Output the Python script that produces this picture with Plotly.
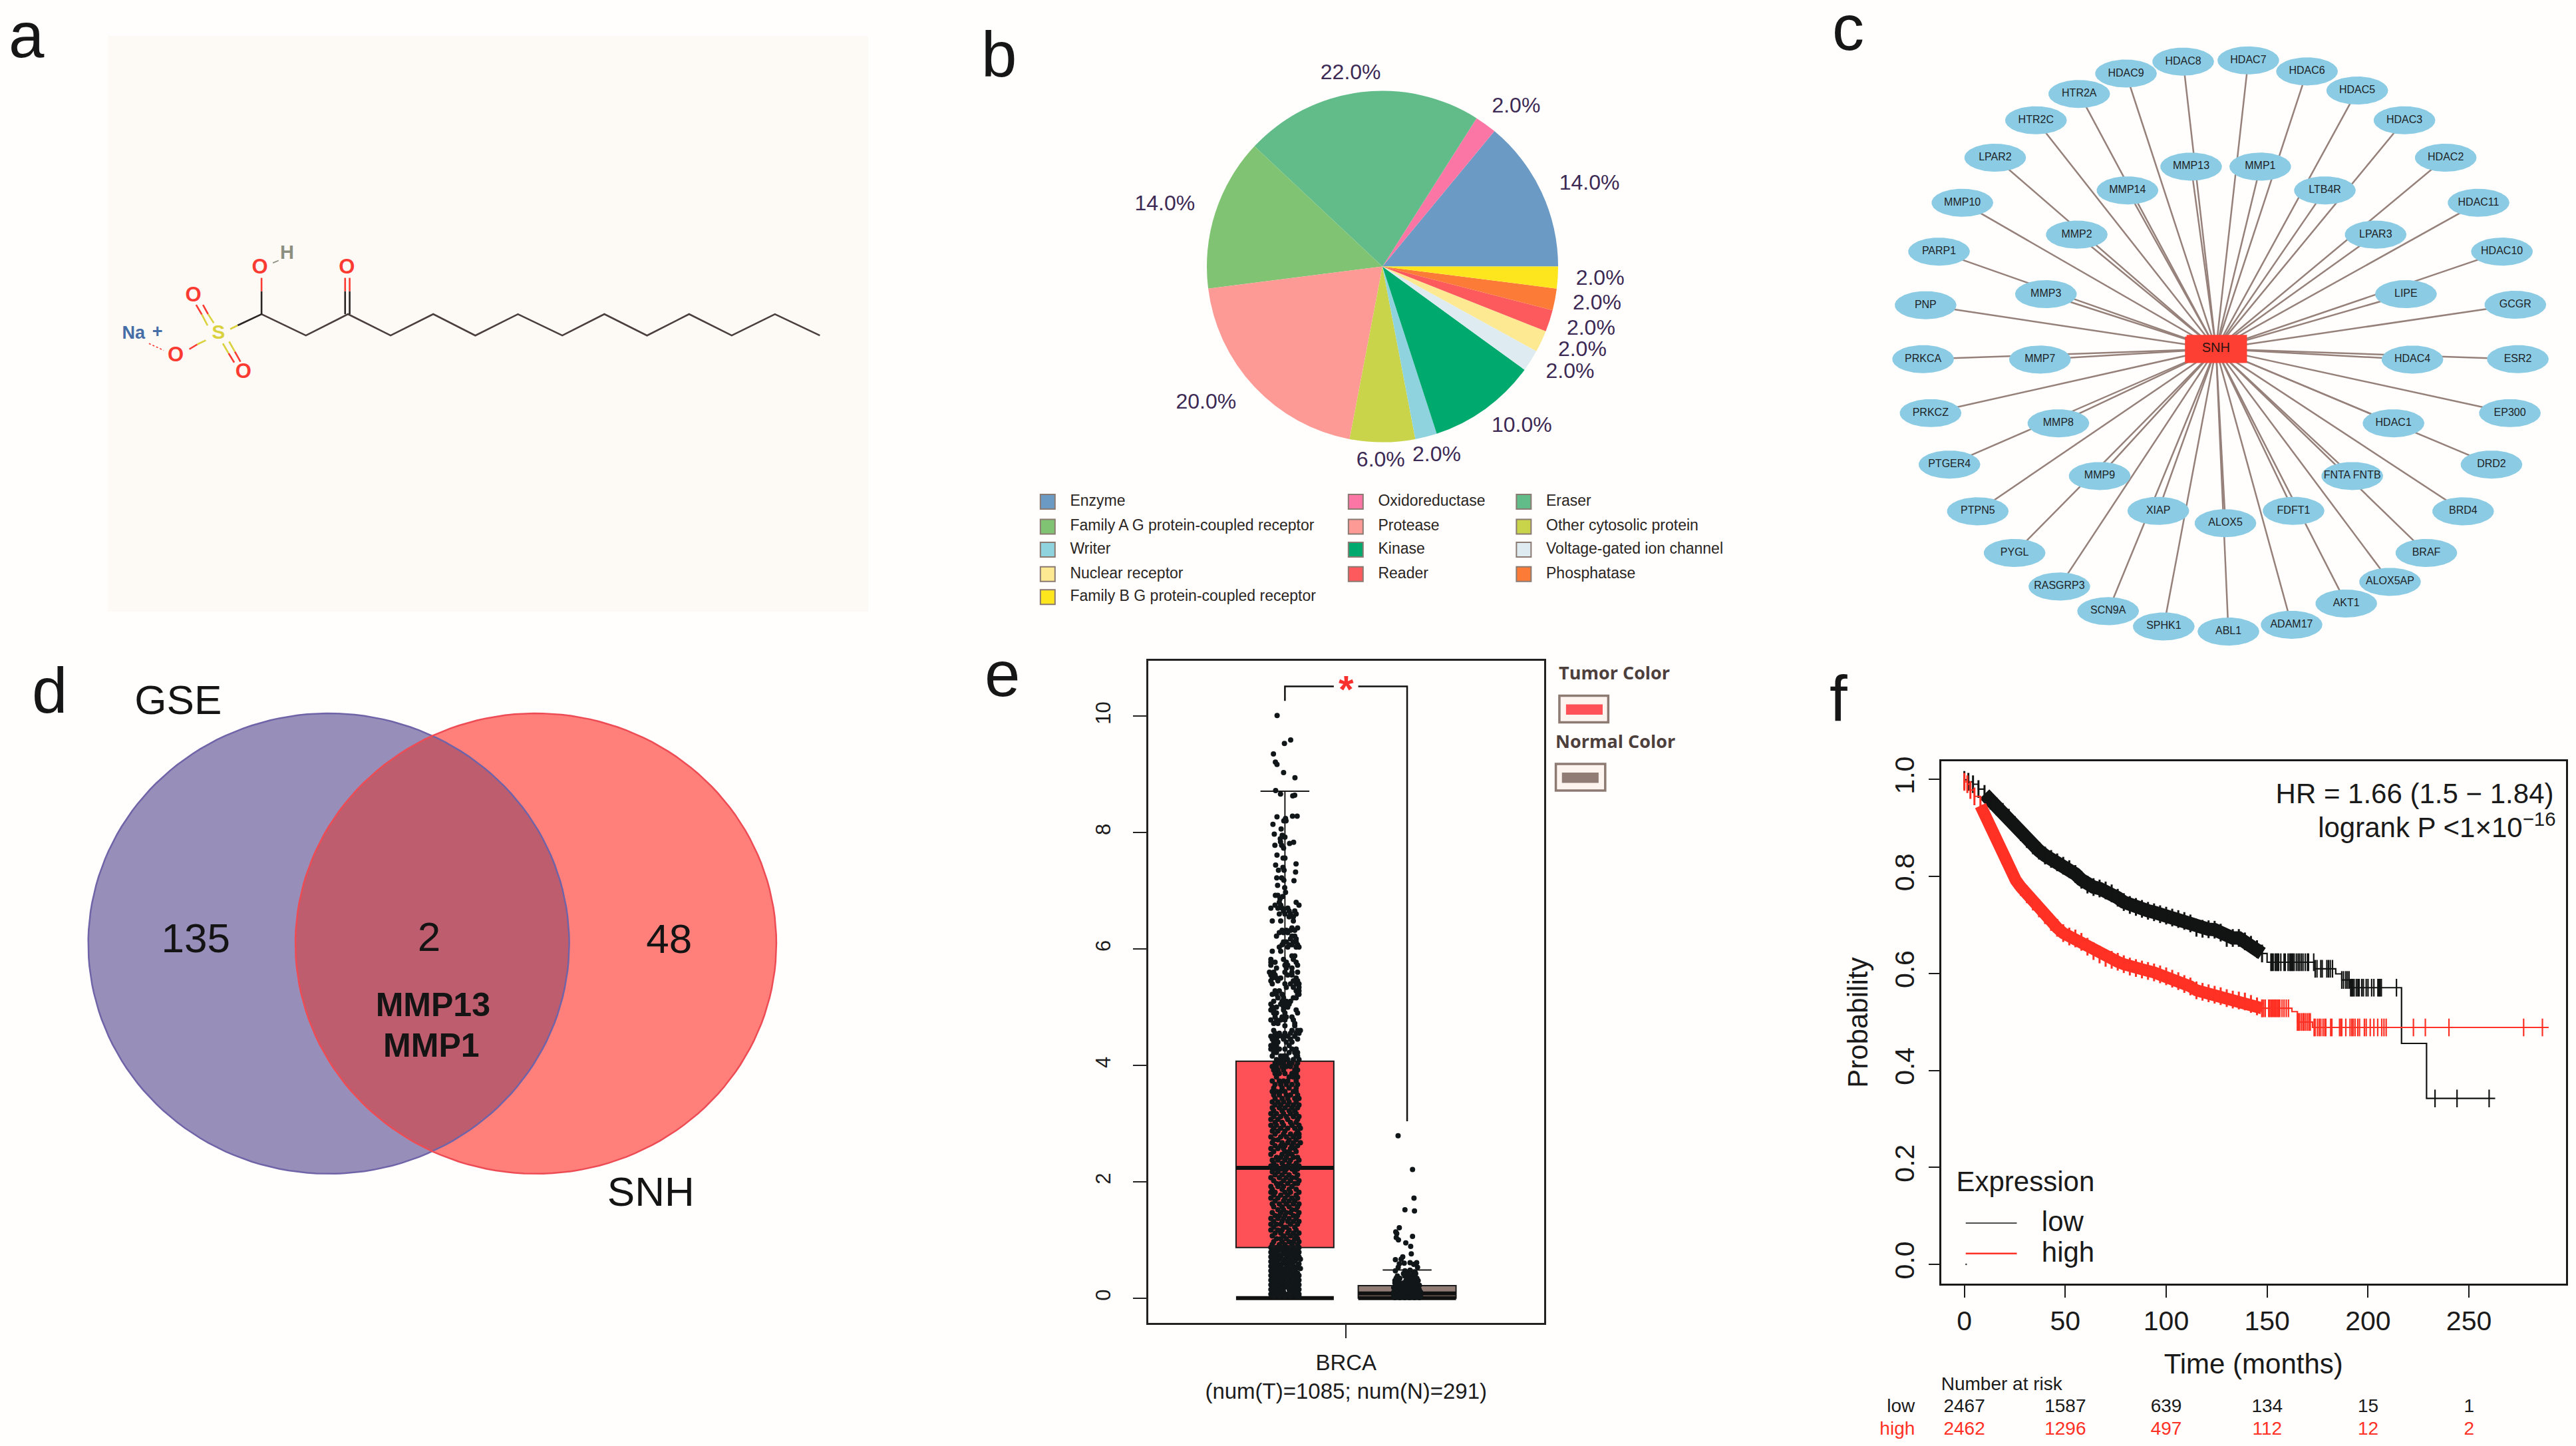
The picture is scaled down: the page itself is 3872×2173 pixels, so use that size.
import numpy as np
import plotly.graph_objects as go

W, H = 3872, 2173
SANS = "Liberation Sans"
BG = "#fffefc"

# ---------- panel a: molecule (drawing units) ----------
chain_x = [460, 538, 612, 687, 762, 836, 911, 989, 1063, 1138, 1212, 1287, 1363, 1442]
chain_y = [775, 828, 775, 828, 775, 828, 775, 828, 775, 828, 775, 828, 775, 828]
dark_x = [418, 460, None, 460, 460, None, 607, 607, None, 615, 615]
dark_y = [803, 775, None, 775, 718, None, 775, 718, None, 775, 718]
red_x = [460, 460, None, 607, 607, None, 615, 615, None, 345, 355, None, 357, 366, None, 402, 412, None, 413, 423, None, 347, 333]
red_y = [718, 685, None, 718, 685, None, 718, 685, None, 752, 776, None, 752, 775, None, 872, 895, None, 868, 893, None, 850, 862]
yellow_x = [405, 418, None, 365, 355, None, 376, 366, None, 392, 402, None, 403, 413, None, 362, 347]
yellow_y = [812, 803, None, 803, 776, None, 797, 775, None, 848, 872, None, 843, 868, None, 840, 850]
ionic_x = [262, 288]
ionic_y = [848, 865]
oh_x = [480, 490]
oh_y = [648, 642]
atom_x = [340, 428, 309, 457, 610]
atom_y = [730, 920, 880, 661, 661]
atom_labels = ["<b>O</b>", "<b>O</b>", "<b>O</b>", "<b>O</b>", "<b>O</b>"]

# ---------- panel b: pie ----------
pie_names = ["Enzyme", "Oxidoreductase", "Eraser", "Family A G protein-coupled receptor", "Protease",
             "Other cytosolic protein", "Writer", "Kinase", "Voltage-gated ion channel", "Nuclear receptor",
             "Reader", "Phosphatase", "Family B G protein-coupled receptor"]
pie_values = [14, 2, 22, 14, 20, 6, 2, 10, 2, 2, 2, 2, 2]
pie_colors = ["#6b9ac4", "#fb75a5", "#62bc89", "#80c372", "#fd9a95", "#c9d44b", "#8ed3de", "#00aa6e",
              "#deecf1", "#fde992", "#fd5a5e", "#fc7c37", "#fee61e"]
pie_lab_x = [1214, 1070, 745, 380, 461, 804, 914, 1081, 1200, 1217, 1176, 1229, 1235]
pie_lab_y = [446, 254, 171, 497, 991, 1134, 1121, 1048, 860, 806, 914, 744, 683]
pie_lab_t = ["14.0%", "2.0%", "22.0%", "14.0%", "20.0%", "6.0%", "2.0%", "10.0%", "2.0%", "2.0%", "2.0%", "2.0%", "2.0%"]
leg_x = [150, 755, 1085, 150, 755, 1085, 150, 755, 1085, 150, 755, 1085, 150]
leg_y = [1236, 1236, 1236, 1298, 1298, 1298, 1355, 1355, 1355, 1416, 1416, 1416, 1473]
leg_order = [0, 1, 2, 3, 4, 5, 6, 7, 8, 9, 10, 11, 12]

# ---------- panel c: network ----------
outer_names = ["HDAC8", "HDAC7", "HDAC6", "HDAC5", "HDAC3", "HDAC2", "HDAC11", "HDAC10", "GCGR", "ESR2", "EP300",
               "DRD2", "BRD4", "BRAF", "ALOX5AP", "AKT1", "ADAM17", "ABL1", "SPHK1", "SCN9A", "RASGRP3", "PYGL",
               "PTPN5", "PTGER4", "PRKCZ", "PRKCA", "PNP", "PARP1", "MMP10", "LPAR2", "HTR2C", "HTR2A", "HDAC9"]
outer_x = [778, 909, 1027, 1128, 1223, 1306, 1372, 1419, 1446, 1451, 1435, 1398, 1341, 1267, 1194, 1106, 996, 869,
           739, 627, 529, 439, 365, 308, 270, 255, 260, 287, 334, 400, 482, 569, 663]
outer_y = [144, 141, 167, 212, 282, 370, 476, 591, 716, 844, 971, 1092, 1202, 1300, 1368, 1419, 1469, 1485, 1473,
           1437, 1379, 1300, 1202, 1092, 971, 844, 717, 591, 476, 370, 282, 220, 172]
inner_names = ["MMP13", "MMP1", "LTB4R", "LPAR3", "LIPE", "HDAC4", "HDAC1", "FNTA FNTB", "FDFT1", "ALOX5", "XIAP",
               "MMP9", "MMP8", "MMP7", "MMP3", "MMP2", "MMP14"]
inner_x = [794, 933, 1063, 1165, 1226, 1239, 1201, 1118, 1000, 863, 728, 610, 527, 490, 502, 564, 666]
inner_y = [391, 391, 447, 551, 691, 845, 995, 1119, 1201, 1230, 1201, 1119, 995, 845, 691, 551, 447]
hub_x, hub_y = 844, 820

# ---------- panel d: Venn ----------
venn_cx = [596, 971.5]
venn_cy = 793
venn_rx = 436
venn_ry = 605
venn_x = [323, 1180, 355, 778, 1213, 785, 782]
venn_y = [163, 1455, 788, 785, 791, 962, 1068]
venn_t = ["GSE", "SNH", "135", "2", "48", "<b>MMP13</b>", "<b>MMP1</b>"]
venn_s = [62, 62, 62, 62, 62, 50, 50]

# ---------- panel e: box plot ----------
box_pos = [1, 2]
box_q1 = [0.87, 0.0]
box_med = [2.24, 0.08]
box_q3 = [4.07, 0.216]
box_low = [0.0, 0.0]
box_up = [8.71, 0.485]
tumor_sparse_x = [.936, 1.047, .996, .906, .922, .935, .989, 1.082, .924, .964, 1.064, 1.08, .935, 1.062, 1.1, 1.005,
                  .991, 1.009, .902, .969, .913, .978, 1.0, .962, .964, 1.071, 1.038, .918, .973, .989, .935, .985,
                  1.0, 1.091, .924, .984, .947, .993, 1.087, .933, .973, .991, 1.074, .94, .998, 1.005, .922, .942,
                  .982, .96]
tumor_sparse_y = [10.01, 9.59, 9.53, 9.35, 9.21, 9.17, 9.03, 8.94, 8.72, 8.66, 8.63, 8.64, 8.27, 8.28, 8.28, 8.24,
                  8.2, 8.2, 8.14, 8.06, 7.97, 7.95, 7.92, 7.89, 7.84, 7.83, 7.81, 7.78, 7.78, 7.73, 7.61, 7.56, 7.56,
                  7.46, 7.44, 7.4, 7.35, 7.35, 7.32, 7.22, 7.22, 7.18, 7.17, 7.09, 7.05, 6.97, 6.92, 6.92, 6.9, 6.86]
# rows of jittered samples: (expression, horizontal jitter in 1/87 of a category)
tumor_rows = [(6.80,[-4,8]),(6.75,[-7,-3,10]),(6.70,[-10,-5,-2,2]),(6.65,[-1,3,7]),(6.60,[-4,0,4,8]),(6.55,[3,6]),
 (6.48,[-9,-3,6]),(6.36,[5,9]),(6.32,[-2,1,4,7]),(6.28,[-4,-1,2]),(6.22,[-6,5,7]),(6.17,[4,8]),(6.12,[-1,1,6,8]),
 (6.07,[-2,3,5,9]),(6.03,[-4,2,8,10]),(5.96,[-9,-3]),(5.88,[5,7]),(5.82,[-10,-1,6]),(5.77,[-10,-7,1,8]),
 (5.72,[-10,0,2,9]),(5.67,[-6,1,5]),(5.6,[-11,-8,0,5,9]),(5.55,[-10,-7,2,5]),(5.5,[-9,-6,-3,8]),(5.45,[-10,-5,6,9]),
 (5.40,[-9,0,4,8,10]),(5.34,[1,6,10]),(5.28,[-7,-4,8,10]),(5.22,[-9,-6,-2,9,10]),(5.16,[-5,-1,6,8]),(5.1,[-8,-2,1,4]),
 (5.05,[-10,-3,0,3]),(5.0,[-9,-6,-1,2]),(4.95,[-10,-8,-1,8]),(4.9,[-8,-6,0,9]),(4.83,[-7,-2,1,5]),
 (4.78,[-10,-6,-3,0,6]),(4.72,[-8,-5,7]),(4.68,[0,7]),(4.6,[-8,5,9,11]),(4.55,[-7,-4,0,4,8,10]),
 (4.5,[-10,-8,-5,-2,2,7]),(4.45,[-9,-6,-1,4,9]),(4.4,[-8,-5,1,5]),(4.34,[-10,-8,-6,3]),(4.28,[-10,-7,-4,0,5,8]),
 (4.22,[-8,-6,3,7,9]),(4.16,[-9,-3,-1,1,8,9]),(4.1,[-6,-3,0,2,6,10]),(4.04,[-7,-4,-1,3,5,9]),(3.98,[-9,-6,-2,1,4,8]),
 (3.92,[-8,-5,-1,7,9]),(3.86,[-7,-4,0,5,8]),(3.8,[-6,3,6,9]),(3.73,[-9,-4,-1,2,8]),(3.67,[-7,-3,1,5,9]),
 (3.61,[-8,-2,3,8]),(3.55,[-9,-6,-3,0,6,8]),(3.49,[-8,-4,1,4,9]),(3.43,[-7,-2,2,7,10]),
 (3.37,[-9,-5,-1,3,8]),(3.32,[-7,-3,2,6,10]),(3.27,[-9,-4,0,5,9]),(3.22,[-8,-2,3,7]),(3.17,[-10,-6,-1,4,8]),
 (3.12,[-8,-3,1,6,10]),(3.07,[-10,-5,2,9]),(3.02,[-7,-2,4,8]),(2.97,[-10,-6,-1,5,10]),(2.92,[-8,-3,2,7,11]),
 (2.87,[-9,-5,0,9]),(2.82,[-7,-1,4,8,10]),(2.77,[-10,-3,1,6,10]),(2.72,[-8,-5,3,8]),(2.67,[-9,-2,2,6,11]),
 (2.62,[-7,-3,0,5,9]),(2.57,[-10,-5,-1,4,7]),(2.52,[-8,0,3,8]),(2.47,[-10,-2,2,5]),(2.42,[-6,-3,1,6,9]),
 (2.37,[-9,-5,0,4,10]),(2.32,[-8,-2,3,8]),(2.27,[-10,-6,-1,2,6,10]),(2.22,[-8,-3,1,5,9]),(2.17,[-9,-5,0,7]),
 (2.12,[-7,-2,3,9]),(2.07,[-10,-4,1,5,8]),(2.02,[-8,-1,4,10]),(1.97,[-6,-3,2,7,9]),(1.92,[-10,-5,-1,5]),
 (1.87,[-9,-2,3,8]),(1.82,[-10,-7,0,4,10]),(1.77,[-8,-3,2,8]),(1.72,[-10,-5,0,5,9]),(1.67,[-7,-1,3,7]),
 (1.62,[-9,-4,1,6,10]),(1.57,[-8,-2,3,9]),(1.52,[-5,-1,5,8]),(1.47,[-9,-3,1,4,10]),(1.42,[-7,-4,0,6,9]),
 (1.37,[-10,-5,-1,3,8]),(1.32,[-8,-2,2,6,10]),(1.27,[-10,-6,-3,4,9]),(1.22,[-8,-1,1,7]),(1.17,[-10,-5,-2,3,8]),
 (1.12,[-7,-3,2,6,10]),(1.07,[-9,-1,4,8]),(1.02,[-6,-3,1,7,9]),(.97,[-8,-2,3,6,10]),(.92,[-9,-4,0,5,9]),
 (.87,[-10,-6,-2,2,6,10]),(.83,[-8,-4,0,4,8]),(.79,[-10,-6,-1,3,7,10]),(.75,[-9,-5,-2,1,5,9]),(.71,[-10,-7,-3,2,6,10]),
 (.67,[-8,-4,0,4,8,11]),(.63,[-10,-6,-1,3,7]),(.59,[-9,-5,-2,1,5,10]),(.55,[-10,-7,-3,2,6,9]),(.51,[-8,-4,0,4,8,11]),
 (.47,[-10,-6,-2,3,7]),(.43,[-9,-5,-1,1,5,9]),(.39,[-10,-7,-3,2,6,10]),(.35,[-8,-4,0,4,8]),(.31,[-10,-6,-2,3,7,10]),
 (.27,[-9,-5,-1,1,5,9]),(.23,[-10,-7,-3,2,6,10]),(.19,[-8,-4,0,4,8]),(.15,[-10,-6,-2,3,7,10]),(.11,[-9,-5,-1,5,9]),
 (.07,[-10,-7,-3,2,6,10]),(.03,[-8,-4,0,4,8,10])]
normal_sparse_x = [1.926, 2.044, 2.056, 1.982, 2.06, 1.936, 1.907, 1.915, 2.044, 1.911, 1.929, 1.989, 2.029, 2.034,
                   1.904, 1.964, 1.951, 2.024, 1.936, 1.976, 2.078, 2.054, 1.927, 2.085, 1.904, 1.982, 2.024, 2.064]
normal_sparse_y = [2.79, 2.21, 1.72, 1.52, 1.5, 1.21, 1.14, 1.11, 1.06, 1.04, 1.0, .95, .89, .76, .66, .71, .67, .61,
                   .59, .6, .61, .58, .53, .53, .47, .47, .48, .45]
normal_rows = [(.42,[-3,1,5,7]),(.38,[-8,-2,3,6]),(.34,[-9,-6,0,4,8]),(.3,[-10,-7,-1,2,6,9]),(.26,[-10,-6,-3,1,5,8]),
 (.22,[-9,-5,-1,3,7,10]),(.18,[-11,-7,-3,1,4,8]),(.14,[-10,-6,-2,2,6,10]),(.1,[-11,-8,-4,0,3,7,11]),
 (.06,[-10,-6,-2,2,6,10]),(.03,[-11,-8,-4,0,4,8,11]),(.01,[-10,-6,-2,2,6,10])]

# ---------- panel f: survival ----------
low_t = [0,2,4.3,7,10,13,16,19,22,25,28,31,34,37,40,43,46,49,52,55,58,61,64,67,70,73,76,79,82,85,88,91,94,97,100,103,
         106,109,112,115,118,121,124,127,130,133,136,139,142,145,147.5]
low_s = [.999,.995,.99,.98,.97,.956,.944,.933,.921,.906,.891,.877,.864,.853,.843,.836,.829,.822,.815,.805,.793,.783,
         .778,.775,.771,.765,.756,.747,.741,.737,.733,.729,.726,.722,.719,.715,.712,.708,.703,.694,.692,.691,.69,.684,
         .673,.673,.673,.666,.659,.65,.641]
low_levels_t = [150, 173.8, 184, 187, 191.2, 216.6, 229, 263]
low_levels_s = [.623, .6095, .599, .5864, .5705, .4556, .3421, .3421]
low_cens_t = [151.9,152.4,153,154,154.6,155.2,155.7,156.8,158.4,159,160.4,161.2,161.7,162.3,162.8,163.4,164.5,165.4,
              166.1,167,167.8,168.9,170,170.5,173.1,173.8,174.7,176.6,177.3,179.6,180.4,181.3,182.4,187,187.9,189,
              189.8,190.6,191.4,191.96,192.5,193.1,194.2,195,195.6,196.9,197.7,199.1,200,201.8,202.9,204.9,205.5,206,
              206.6,214.1,233.2,244.1,260]
low_cens_s = [.623]*25 + [.6095]*8 + [.5864]*5 + [.5705]*18 + [.3421]*3
high_t = [0,1.5,3,5,8,10,12.6,15,17.3,19,21,23,25.5,28,31,34,37,40,43,46,49,52,55,58,61,64,67,70,73,76,79,82,85,88,91,
          94,97,100,103,106,109,112,115,118,121,124,127,130,133,136,139,142,145,147.5]
high_s = [.995,.99,.978,.965,.946,.927,.901,.88,.86,.843,.826,.809,.792,.778,.763,.748,.734,.72,.706,.694,.683,.676,
          .672,.665,.655,.646,.639,.632,.628,.624,.619,.614,.611,.608,.605,.602,.598,.594,.589,.584,.578,.573,.565,
          .562,.559,.556,.553,.549,.546,.544,.542,.537,.532,.528]
high_levels_t = [162.3, 165, 172.5, 289.5]
high_levels_s = [.5211, .4998, .4885, .4885]
high_cens_t = [147.5,148.3,149.1,150.8,151.3,151.9,152.4,153,153.5,154.1,154.6,155.2,155.7,156.3,157.4,158.4,159.5,160.6,
               165,165.6,166.1,167,167.8,168.3,169.1,170,170.8,171.4,
               173.3,173.8,174.9,175.8,176.6,177.7,178.6,179.1,181.5,182.1,185.9,186.5,187,189,191.1,192,192.7,193.6,
               194.9,195.8,198.2,199.1,201.1,202.9,204.8,206.8,207.9,209,222.5,228.4,240.1,277.1,286.4]
high_cens_s = [.528]*18 + [.4998]*10 + [.4885]*33
risk_t = [0, 50, 100, 150, 200, 250]
risk_low = ["2467", "1587", "639", "134", "15", "1"]
risk_high = ["2462", "1296", "497", "112", "12", "2"]

RED_F, BLACK = "#ff3024", "#121414"

fig = go.Figure()


def dom(x0, y0, w, h):
    return dict(x=[x0 / W, (x0 + w) / W], y=[1 - (y0 + h) / H, 1 - y0 / H])


def hidden(n, crop, xr=(0, 1568), yr=(1568, 0)):
    d = dom(*crop)
    fig.update_layout(**{
        f"xaxis{n}": dict(domain=d["x"], range=list(xr), visible=False, fixedrange=True, anchor=f"y{n}"),
        f"yaxis{n}": dict(domain=d["y"], range=list(yr), visible=False, fixedrange=True, anchor=f"x{n}"),
    })


def txt(n, xs, ys, labels, size, color="#151515", pos="middle center", family=SANS):
    fig.add_trace(go.Scatter(x=xs, y=ys, text=labels, mode="text", textposition=pos, xaxis=f"x{n}", yaxis=f"y{n}",
                             textfont=dict(size=size, color=color, family=family), cliponaxis=False,
                             hoverinfo="skip", showlegend=False))


def line(n, xs, ys, color, width, dash=None, shape="linear"):
    fig.add_trace(go.Scatter(x=xs, y=ys, mode="lines", xaxis=f"x{n}", yaxis=f"y{n}", cliponaxis=False,
                             line=dict(color=color, width=width, dash=dash, shape=shape), hoverinfo="skip",
                             showlegend=False))


def ellipse(cx, cy, rx, ry, t0=0, t1=2 * np.pi):
    t = np.linspace(t0, t1, 160)
    return cx + rx * np.cos(t), cy + ry * np.sin(t)


# ---- panel a
hidden(1, (0, 0, 1340, 950), yr=(1571.7, 8.6))
fig.add_shape(type="rect", xref="x1", yref="y1", x0=190, x1=1527, y0=85, y1=1513, fillcolor="#fdf9f5",
              line_width=0, layer="below")
line(1, chain_x, chain_y, "#4a3f3c", 2.6)
line(1, dark_x, dark_y, "#2a2422", 2.6)
line(1, red_x, red_y, "#fb3a32", 2.6)
line(1, yellow_x, yellow_y, "#d9d23e", 2.6)
line(1, ionic_x, ionic_y, "#fb3a32", 1.6, dash="dot")
line(1, oh_x, oh_y, "#8a8f80", 1.8)
txt(1, atom_x, atom_y, atom_labels, 31, "#fb3a32")
txt(1, [384], [824], ["<b>S</b>"], 30, "#d9d23e")
txt(1, [235, 277], [824, 822], ["<b>Na</b>", "<b>+</b>"], 27, "#456ea6")
txt(1, [505], [625], ["<b>H</b>"], 29, "#8a8f80")

# ---- panel b
hidden(2, (1460, 0, 1200, 950))
cx, cy, r = 2078, 394, 265
fig.add_trace(go.Pie(labels=pie_names, values=pie_values, sort=False, direction="counterclockwise", rotation=39.6,
                     marker=dict(colors=pie_colors, line=dict(width=0)), textinfo="none", showlegend=False,
                     hoverinfo="label+percent",
                     domain=dict(x=[(cx - r) / W, (cx + r) / W], y=[1 - (cy + r) / H, 1 - (cy - r) / H])))
txt(2, pie_lab_x, pie_lab_y, pie_lab_t, 32, "#3c2a55")
fig.add_trace(go.Scatter(x=leg_x, y=leg_y, mode="markers", xaxis="x2", yaxis="y2", hoverinfo="skip", showlegend=False,
                         marker=dict(symbol="square", size=22, color=[pie_colors[i] for i in leg_order],
                                     line=dict(color="#8a7a72", width=2))))
txt(2, [x + 44 for x in leg_x], leg_y, pie_names, 23, "#2a2522", pos="middle right")

# ---- panel c
hidden(3, (2700, 0, 1172, 1000), yr=(1571.5, 11.5))
all_x, all_y = outer_x + inner_x, outer_y + inner_y
ex, ey = [], []
for x, y in zip(all_x, all_y):
    ex += [hub_x, x, None]
    ey += [hub_y, y, None]
line(3, ex, ey, "#96807a", 2.5)
nx, ny = [], []
for x, y in zip(all_x, all_y):
    a, b = ellipse(x, y, 62, 33)
    nx += list(a) + [None]
    ny += list(b) + [None]
fig.add_trace(go.Scatter(x=nx, y=ny, mode="lines", fill="toself", fillcolor="#8ccbe4", line=dict(width=0),
                         xaxis="x3", yaxis="y3", hoverinfo="skip", showlegend=False))
fig.add_trace(go.Scatter(x=[hub_x - 59, hub_x + 59, hub_x + 59, hub_x - 59, hub_x - 59],
                         y=[hub_y - 29, hub_y - 29, hub_y + 29, hub_y + 29, hub_y - 29], mode="lines", fill="toself",
                         fillcolor="#fd3f33", line=dict(color="#fd3f33", width=5), xaxis="x3", yaxis="y3",
                         hoverinfo="skip", showlegend=False))
txt(3, all_x, all_y, outer_names + inner_names, 16, "#1c2326")
txt(3, [hub_x], [hub_y], ["SNH"], 20, "#2a1210")

# ---- panel d
hidden(4, (0, 960, 1300, 900))
cxl, cxr = venn_cx
lx, ly = ellipse(cxl, venn_cy, venn_rx, venn_ry)
rx_, ry_ = ellipse(cxr, venn_cy, venn_rx, venn_ry)
th = np.arccos((cxr - cxl) / 2 / venn_rx)
ax_, ay_ = ellipse(cxl, venn_cy, venn_rx, venn_ry, -th, th)
bx_, by_ = ellipse(cxr, venn_cy, venn_rx, venn_ry, np.pi - th, np.pi + th)
for xs, ys, c in [(lx, ly, "#978fb9"), (rx_, ry_, "#ff7f7b"),
                  (np.r_[ax_, bx_], np.r_[ay_, by_], "#be5d6e")]:
    fig.add_trace(go.Scatter(x=xs, y=ys, mode="lines", fill="toself", fillcolor=c, line=dict(width=0), xaxis="x4",
                             yaxis="y4", hoverinfo="skip", showlegend=False))
line(4, lx, ly, "#6f64a8", 2.5)
line(4, rx_, ry_, "#ee4c55", 2.5)
for x, y, t, s in zip(venn_x, venn_y, venn_t, venn_s):
    txt(4, [x], [y], [t], s, "#141414")

# ---- panel e
e_frame = dict(x0=1726, x1=2321, y0=989, y1=1987)
ed = dom(e_frame["x0"], e_frame["y0"], e_frame["x1"] - e_frame["x0"], e_frame["y1"] - e_frame["y0"])
fig.update_layout(
    xaxis5=dict(domain=ed["x"], range=[-0.118, 3.121], anchor="y5", showgrid=False, zeroline=False, showline=True,
                mirror=True, linecolor="#222", linewidth=2.5, ticks="outside", ticklen=21, tickwidth=2, tickcolor="#222",
                tickmode="array", tickvals=[1.5], ticktext=["BRCA<br>(num(T)=1085; num(N)=291)"], ticklabelstandoff=8,
                tickfont=dict(size=33, family=SANS, color="#1c1c1c"), fixedrange=True),
    yaxis5=dict(domain=ed["y"], range=[-0.421, 10.945], anchor="x5", showgrid=False, zeroline=False, showline=True,
                mirror=True, linecolor="#222", linewidth=2.5, ticks="outside", ticklen=20, tickwidth=2, tickcolor="#222",
                tickmode="array", tickvals=[0, 2, 4, 6, 8, 10], tickangle=-90, ticklabelstandoff=22,
                tickfont=dict(size=31, family=SANS, color="#1c1c1c"), fixedrange=True),
)
for i, col in enumerate(["#fd5157", "#917c75"]):
    fig.add_trace(go.Box(x=[box_pos[i]], q1=[box_q1[i]], median=[box_med[i]], q3=[box_q3[i]], lowerfence=[box_low[i]],
                         upperfence=[box_up[i]], width=0.8, whiskerwidth=0.5, fillcolor=col, boxpoints=False,
                         line=dict(color="#1a1a1a", width=2), xaxis="x5", yaxis="y5", hoverinfo="skip",
                         showlegend=False))
    line(5, [box_pos[i] - .4, box_pos[i] + .4], [box_med[i], box_med[i]], "#111", 6)
    line(5, [box_pos[i] - .4, box_pos[i] + .4], [box_low[i], box_low[i]], "#111", 6)
px_, py_ = list(tumor_sparse_x), list(tumor_sparse_y)
for y, offs in tumor_rows:
    px_ += [1 + o / 87 for o in offs]
    py_ += [y] * len(offs)
qx, qy = list(normal_sparse_x), list(normal_sparse_y)
for y, offs in normal_rows:
    qx += [2 + o / 100 for o in offs]
    qy += [y] * len(offs)
for xs, ys in [(px_, py_), (qx, qy)]:
    fig.add_trace(go.Scatter(x=xs, y=ys, mode="markers", marker=dict(size=8, color="#111618"), xaxis="x5", yaxis="y5",
                             hoverinfo="skip", showlegend=False))
line(5, [1, 1, 1.4], [10.26, 10.51, 10.51], "#111", 2.5)
line(5, [1.6, 2, 2], [10.51, 10.51, 3.04], "#111", 2.5)
txt(5, [1.5], [10.4], ["<b>*</b>"], 58, "#f8312f")

hidden(7, (1460, 960, 1200, 1213))
for x0, x1, y0, y1, ix0, ix1, iy0, iy1, c in [(1155, 1251, 105, 157, 1168, 1240, 122, 142, "#fd5157"),
                                             (1148, 1245, 238, 290, 1160, 1232, 255, 275, "#917c75")]:
    fig.add_shape(type="rect", xref="x7", yref="y7", x0=x0, x1=x1, y0=y0, y1=y1, fillcolor="#fdf3ef",
                  line=dict(color="#8d7a72", width=3.5))
    fig.add_shape(type="rect", xref="x7", yref="y7", x0=ix0, x1=ix1, y0=iy0, y1=iy1, fillcolor=c, line_width=0)
txt(7, [1263, 1265], [65, 198], ["<b>Tumor Color</b>", "<b>Normal Color</b>"], 27, "#4d403c", family="Open Sans")

# ---- panel f
fd = dom(2917.5, 1140.6, 3857 - 2917.5, 1928 - 1140.6)
axis_f = dict(showgrid=False, zeroline=False, showline=True, mirror=True, linecolor="#1a1a1a", linewidth=2.5,
              ticks="outside", tickwidth=2, tickcolor="#1a1a1a", tickfont=dict(size=41, family=SANS, color="#1a1a1a"),
              fixedrange=True)
fig.update_layout(
    xaxis6=dict(axis_f, domain=fd["x"], range=[-11.57, 298.1], anchor="y6", ticklen=18, tickmode="array",
                tickvals=[0, 50, 100, 150, 200, 250],
                title=dict(text="Time (months)", font=dict(size=42, family=SANS, color="#1a1a1a"), standoff=28)),
    yaxis6=dict(axis_f, domain=fd["y"], range=[-0.0396, 1.0368], anchor="x6", ticklen=16, tickmode="array",
                tickvals=[0, .2, .4, .6, .8, 1], ticktext=["0.0", "0.2", "0.4", "0.6", "0.8", "1.0"], tickangle=-90,
                ticklabelstandoff=5,
                title=dict(text="Probability", font=dict(size=42, family=SANS, color="#1a1a1a"), standoff=20)),
)
for ts, ss, lvt, lvs, col, bw, ct, cs in [(low_t, low_s, low_levels_t, low_levels_s, BLACK, 20, low_cens_t, low_cens_s),
                                          (high_t, high_s, high_levels_t, high_levels_s, RED_F, 18, high_cens_t, high_cens_s)]:
    line(6, ts + lvt, ss + lvs, col, 2.2, shape="hv")
    # the dense overlapping censoring ticks read as a solid band along the curve
    line(6, ts[4:], ss[4:], col, bw)
    fig.add_trace(go.Scatter(x=ts, y=ss, mode="markers", xaxis="x6", yaxis="y6", hoverinfo="skip", showlegend=False,
                             marker=dict(symbol="line-ns", size=19, color=col, line=dict(color=col, width=3))))
    fig.add_trace(go.Scatter(x=ct, y=cs, mode="markers", xaxis="x6", yaxis="y6", hoverinfo="skip", showlegend=False,
                             marker=dict(symbol="line-ns", size=19, color=col, line=dict(color=col, width=2.2))))
txt(6, [292], [.965], ["HR = 1.66 (1.5 − 1.84)"], 42, "#1a1a1a", pos="middle left")
txt(6, [293], [.895], ["logrank P &lt;1×10<sup>−16</sup>"], 42, "#1a1a1a", pos="middle left")
txt(6, [-4], [.165], ["Expression"], 42, "#1a1a1a", pos="middle right")
txt(6, [38.3, 38.3], [.083, .0205], ["low", "high"], 42, "#1a1a1a", pos="middle right")
line(6, [0.7, 26], [.085, .085], BLACK, 1.5)
line(6, [0.7, 26], [.0225, .0225], RED_F, 2.5)
fig.add_trace(go.Scatter(x=[.9], y=[0], mode="markers", marker=dict(size=2.5, color="#333"), xaxis="x6", yaxis="y6",
                         hoverinfo="skip", showlegend=False))
# number-at-risk table: same month scale as the panel, on its own band under the axis
hidden(8, (2700, 2050, 1172, 123), xr=(-83.26, 303.0), yr=(-.3746, -.2064))
txt(8, [-11.5], [-.2494], ["Number at risk"], 28, "#1a1a1a", pos="middle right")
txt(8, risk_t, [-.2946] * 6, risk_low, 28, "#1a1a1a")
txt(8, risk_t, [-.341] * 6, risk_high, 28, RED_F)
txt(8, [-24.5, -24.5], [-.2946, -.341], ["low", "high"], 28, ["#1a1a1a", RED_F], pos="middle left")

# panel letters
letters = ["a", "b", "c", "d", "e", "f"]
letter_px = [40, 1501, 2778, 74, 1506, 2763]
letter_py = [45, 74, 34, 1033, 1008, 1045]
for t, x, y in zip(letters, letter_px, letter_py):
    fig.add_annotation(text=t, x=x / W, y=1 - y / H, xref="paper", yref="paper", showarrow=False, xanchor="center",
                       yanchor="middle", font=dict(size=96, family=SANS, color="#161616"))

fig.update_layout(width=W, height=H, margin=dict(l=0, r=0, t=0, b=0), paper_bgcolor=BG, plot_bgcolor="rgba(0,0,0,0)",
                  showlegend=False, autosize=False)
fig.write_html("out.html", config=dict(displayModeBar=False),
               post_script="document.body.style.margin='0';document.body.style.background='%s';" % BG)
